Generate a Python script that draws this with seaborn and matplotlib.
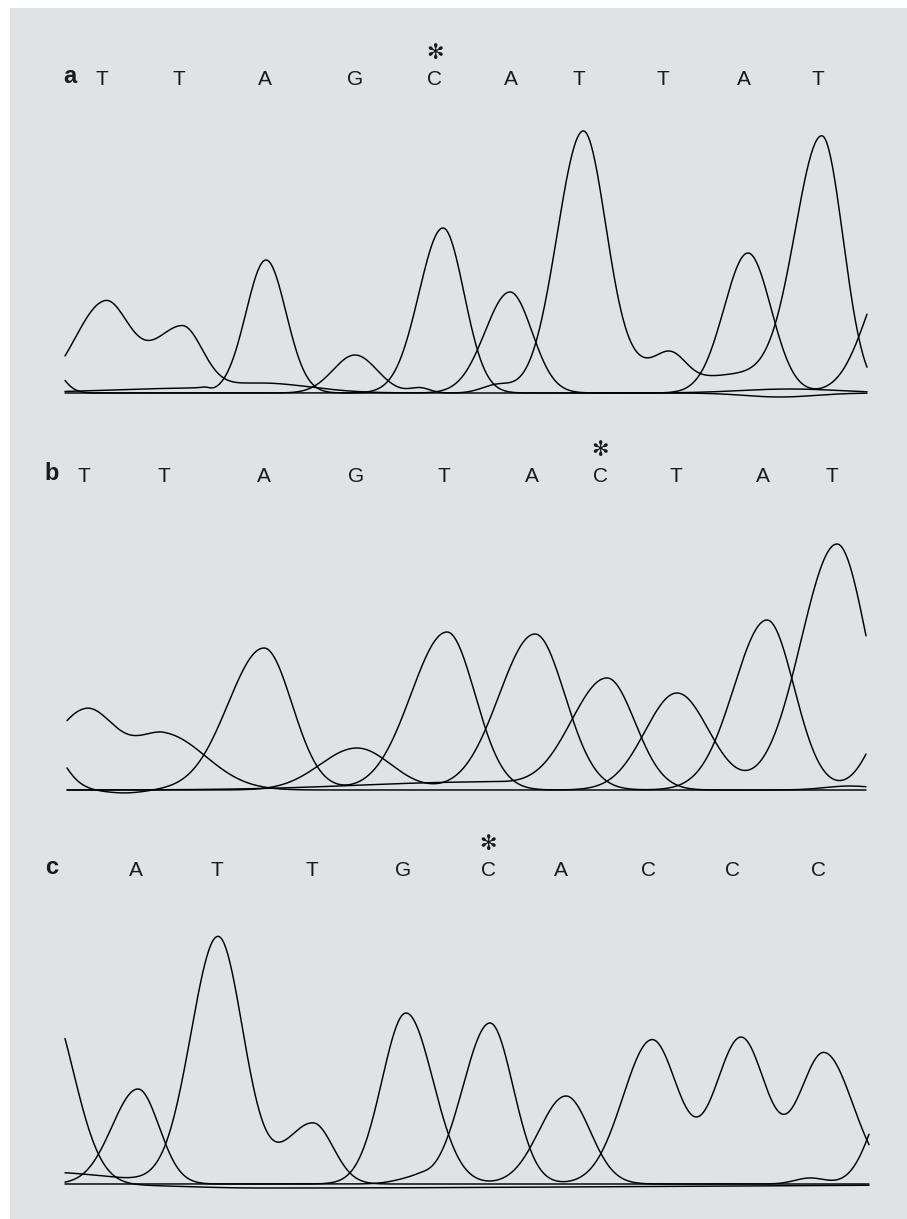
import numpy as np
import pandas as pd
import matplotlib
matplotlib.use('Agg')
import matplotlib.pyplot as plt
import seaborn as sns
from matplotlib.patches import Rectangle

# --- base calls printed above each chromatogram ---
a_bases = ['T', 'T', 'A', 'G', 'C', 'A', 'T', 'T', 'A', 'T']
a_base_pos = [102, 179, 265, 355, 435, 511, 579, 663, 744, 818]
a_star = 435

b_bases = ['T', 'T', 'A', 'G', 'T', 'A', 'C', 'T', 'A', 'T']
b_base_pos = [84, 164, 264, 356, 444, 532, 600, 676, 763, 832]
b_star = 600

c_bases = ['A', 'T', 'T', 'G', 'C', 'A', 'C', 'C', 'C']
c_base_pos = [136, 217, 312, 403, 488, 561, 649, 733, 818]
c_star = 488

# --- peaks: (scan position, height, left width, right width) ---
a_trace1 = [(105, 90, 30, 24), (182, 64, 30, 20), (260, 10, 50, 50), (497, 8, 15, 15),
            (583, 260, 26, 23), (650, 25, 30, 30), (672, 18, 14, 14), (740, 18, 40, 40),
            (822, 255, 27, 21)]
a_trace2 = [(203, 5, 90, 6), (266, 133, 20, 20), (510, 101, 25, 22), (748, 140, 24, 23),
            (895, 130, 28, 28)]
a_trace3 = [(45, 35, 14, 14), (443, 165, 24, 21), (790, 4, 50, 50)]
a_trace4 = [(355, 38, 22, 22), (420, 5, 10, 10), (780, -4, 35, 35)]

b_trace1 = [(86, 80, 35, 30), (165, 55, 30, 41), (677, 97, 32, 32), (837, 246, 36, 30)]
b_trace2 = [(40, 55, 20, 20), (125, -3, 20, 20), (264, 142, 36, 28), (447, 158, 36, 28)]
b_trace3 = [(357, 42, 37, 34), (535, 156, 36, 30), (767, 170, 33, 27), (900, 90, 25, 25)]
b_trace4 = [(480, 8, 120, 40), (607, 112, 36, 28), (850, 4, 25, 25)]

c_trace1 = [(45, 188, 28, 28), (260, -4, 80, 400)]
c_trace2 = [(138, 95, 26, 21), (406, 171, 24, 27), (566, 88, 27, 24), (810, 6, 15, 15),
            (895, 100, 22, 22)]
c_trace3 = [(40, 12, 70, 70), (218, 247, 27, 25), (313, 61, 28, 20)]
c_trace4 = [(417, 6, 20, 10), (490, 161, 27, 23), (652, 144, 29, 26), (741, 146, 26, 25),
            (824, 131, 25, 29)]

W, H = 907, 1219
BG = '#e1e2e4'


def trace_signal(x, peaks):
    """Sum of (possibly skewed) peaks for one dye trace."""
    y = np.zeros_like(x)
    for pos, height, wl, wr in peaks:
        w = np.where(x < pos, wl, wr)
        y += height * np.exp(-0.5 * ((x - pos) / w) ** 2)
    return y


def draw_panel(fig, baseline_px, x_range, traces, label, bases, base_pos, star):
    # axes in pixel-like units: x = scan pos, y = signal above baseline
    bottom = 1 - (baseline_px + 20) / H
    ax = fig.add_axes([0, bottom, 1, 380 / H])
    ax.set_xlim(0, W)
    ax.set_ylim(-20, 360)
    ax.set_facecolor('none')
    ax.axis('off')

    x = np.linspace(x_range[0], x_range[1], 800)
    frames = []
    for i, peaks in enumerate(traces):
        frames.append(pd.DataFrame({'x': x, 'signal': trace_signal(x, peaks), 'trace': i}))
    df = pd.concat(frames, ignore_index=True)
    sns.lineplot(data=df, x='x', y='signal', units='trace', estimator=None,
                 color='black', lw=1.05, ax=ax, legend=False)

    ax.text(label[1], 310, label[0], ha='center', va='baseline', fontsize=17,
            fontweight='bold', family='Liberation Sans', color='#1a1a1a')
    for b, p in zip(bases, base_pos):
        ax.text(p, 308, b, ha='center', va='baseline', fontsize=15,
                family='Liberation Sans', color='#1a1a1a')
    ax.text(star, 340, '\u273b', ha='center', va='center', fontsize=15,
            family='DejaVu Sans', color='#1a1a1a')
    return ax


sns.set_style('white')
fig = plt.figure(figsize=(W / 100, H / 100), dpi=100)
fig.patch.set_facecolor('white')
# grey panel background, drawn beneath the axes
fig.patches.append(Rectangle((10 / W, 0), 1 - 10 / W, 1 - 8 / H, transform=fig.transFigure,
                             facecolor=BG, edgecolor='none', zorder=-10))

draw_panel(fig, 393, (65, 867), [a_trace1, a_trace2, a_trace3, a_trace4],
           ('a', 70), a_bases, a_base_pos, a_star)
draw_panel(fig, 790, (67, 866), [b_trace1, b_trace2, b_trace3, b_trace4],
           ('b', 52), b_bases, b_base_pos, b_star)
draw_panel(fig, 1184, (65, 869), [c_trace1, c_trace2, c_trace3, c_trace4],
           ('c', 52), c_bases, c_base_pos, c_star)

fig.savefig('out.png', dpi=100, facecolor='white')
plt.close()
